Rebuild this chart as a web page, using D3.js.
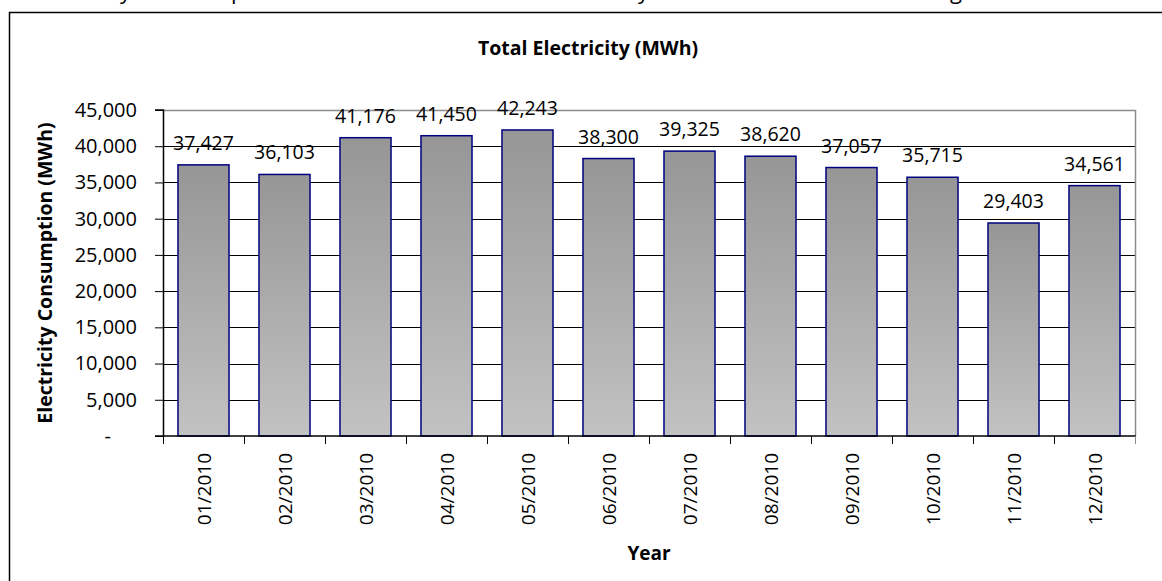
<!DOCTYPE html>
<html>
<head>
<meta charset="utf-8">
<script src="https://cdn.jsdelivr.net/npm/d3@7/dist/d3.min.js"></script>
<style>
  html, body { margin: 0; padding: 0; background: #fff; }
  svg { display: block; }
  text { font-family: "Open Sans", Lato, sans-serif; fill: #000; }
</style>
</head>
<body>
<svg id="chart" width="1162" height="581"></svg>
<script>
// Monthly electricity consumption, 2010 (MWh)
const months = ["01/2010", "02/2010", "03/2010", "04/2010", "05/2010", "06/2010",
                "07/2010", "08/2010", "09/2010", "10/2010", "11/2010", "12/2010"];
const consumption = [37427, 36103, 41176, 41450, 42243, 38300,
                     39325, 38620, 37057, 35715, 29403, 34561];
const yTicks = [0, 5000, 10000, 15000, 20000, 25000, 30000, 35000, 40000, 45000];
const chartTitle = "Total Electricity (MWh)";
const yTitle = "Electricity Consumption (MWh)";
const xTitle = "Year";
// tail of the caption line running above the chart frame
const captionGlyphs = [{ ch: "y", x: 120 }, { ch: "p", x: 231 }, { ch: "y", x: 638 }, { ch: "g", x: 950 }];

const svg = d3.select("#chart");
const plot = { left: 163, right: 1135, top: 110, bottom: 436 };

const x = d3.scaleBand().domain(months).range([plot.left, plot.right]).paddingInner(0.37).paddingOuter(0.185);
const xEdges = d3.scaleLinear().domain([0, months.length]).range([plot.left, plot.right]);
const y = d3.scaleLinear().domain([0, 45000]).range([plot.bottom, plot.top]);

const fmt = d3.format(",");

// caption fragments (only descenders fall inside the page)
svg.append("g").selectAll("text").data(captionGlyphs).join("text")
  .attr("x", d => d.x).attr("y", -1)
  .style("font-size", "22px")
  .text(d => d.ch);

// chart frame
svg.append("path")
  .attr("d", "M9.5,600 V12.5 H1170")
  .attr("fill", "none").attr("stroke", "#000").attr("stroke-width", 1.5);

// per-bar vertical gradient
const defs = svg.append("defs");
const grad = defs.append("linearGradient").attr("id", "barFill")
  .attr("x1", 0).attr("y1", 0).attr("x2", 0).attr("y2", 1);
grad.append("stop").attr("offset", "0%").attr("stop-color", "#969696");
grad.append("stop").attr("offset", "100%").attr("stop-color", "#c2c2c2");

// gridlines
svg.append("g").selectAll("line").data(yTicks.filter(t => t > 0 && t < 45000)).join("line")
  .attr("x1", plot.left).attr("x2", plot.right)
  .attr("y1", d => Math.round(y(d)) + 0.5).attr("y2", d => Math.round(y(d)) + 0.5)
  .attr("stroke", "#000").attr("stroke-width", 1);

// plot border (top and right)
svg.append("path")
  .attr("d", `M${plot.left},${plot.top + 0.5} H${plot.right + 0.5} V${plot.bottom}`)
  .attr("fill", "none").attr("stroke", "#8c8c8c").attr("stroke-width", 1.5);

// bars
svg.append("g").selectAll("rect").data(consumption).join("rect")
  .attr("x", (d, i) => x(months[i]))
  .attr("width", x.bandwidth())
  .attr("y", d => y(d))
  .attr("height", d => plot.bottom - y(d))
  .attr("fill", "url(#barFill)")
  .attr("stroke", "#000080").attr("stroke-width", 1.5);

// y axis
const yAxis = d3.axisLeft(y).tickValues(yTicks).tickSize(8).tickPadding(18)
  .tickFormat(d => d === 0 ? "-" : fmt(d));
const yg = svg.append("g").attr("transform", `translate(${plot.left},0)`).call(yAxis);
yg.select(".domain").attr("stroke", "#000").attr("stroke-width", 1.5).attr("d", `M-8,${plot.top}H0.5V${plot.bottom}`);
yg.selectAll(".tick line").attr("stroke", "#000");
yg.selectAll(".tick text").style("font-size", "20px").style("font-family", "'Open Sans', sans-serif").attr("fill", "#000")
  .attr("dx", d => d === 0 ? -26 : 0);

// x axis: ticks on category boundaries
svg.append("line")
  .attr("x1", plot.left - 8).attr("x2", plot.right + 1)
  .attr("y1", plot.bottom).attr("y2", plot.bottom)
  .attr("stroke", "#000").attr("stroke-width", 1.5);
svg.append("g").selectAll("line").data(d3.range(months.length + 1)).join("line")
  .attr("x1", d => Math.round(xEdges(d)) + 0.5).attr("x2", d => Math.round(xEdges(d)) + 0.5)
  .attr("y1", plot.bottom).attr("y2", plot.bottom + 8)
  .attr("stroke", d => d === months.length ? "#8c8c8c" : "#000").attr("stroke-width", 1);

// category labels, rotated
svg.append("g").selectAll("text").data(months).join("text")
  .attr("transform", d => `translate(${x(d) + x.bandwidth() / 2},${plot.bottom + 17}) rotate(-90)`)
  .attr("text-anchor", "end").attr("dominant-baseline", "central")
  .style("font-size", "19px")
  .text(d => d);

// value labels
svg.append("g").selectAll("text").data(consumption).join("text")
  .attr("x", (d, i) => x(months[i]) + x.bandwidth() / 2)
  .attr("y", d => y(d) - 15)
  .attr("text-anchor", "middle")
  .style("font-size", "19.5px")
  .text(d => fmt(d));

// titles
svg.append("text").attr("x", 588).attr("y", 55).attr("text-anchor", "middle")
  .style("font-size", "19.5px").style("font-weight", "bold").text(chartTitle);
svg.append("text").attr("x", (plot.left + plot.right) / 2).attr("y", 560).attr("text-anchor", "middle")
  .style("font-size", "19px").style("font-weight", "bold").text(xTitle);
svg.append("text")
  .attr("transform", `translate(52,${(plot.top + plot.bottom) / 2}) rotate(-90)`)
  .attr("text-anchor", "middle")
  .style("font-size", "19.5px").style("font-weight", "bold").text(yTitle);
</script>
</body>
</html>
